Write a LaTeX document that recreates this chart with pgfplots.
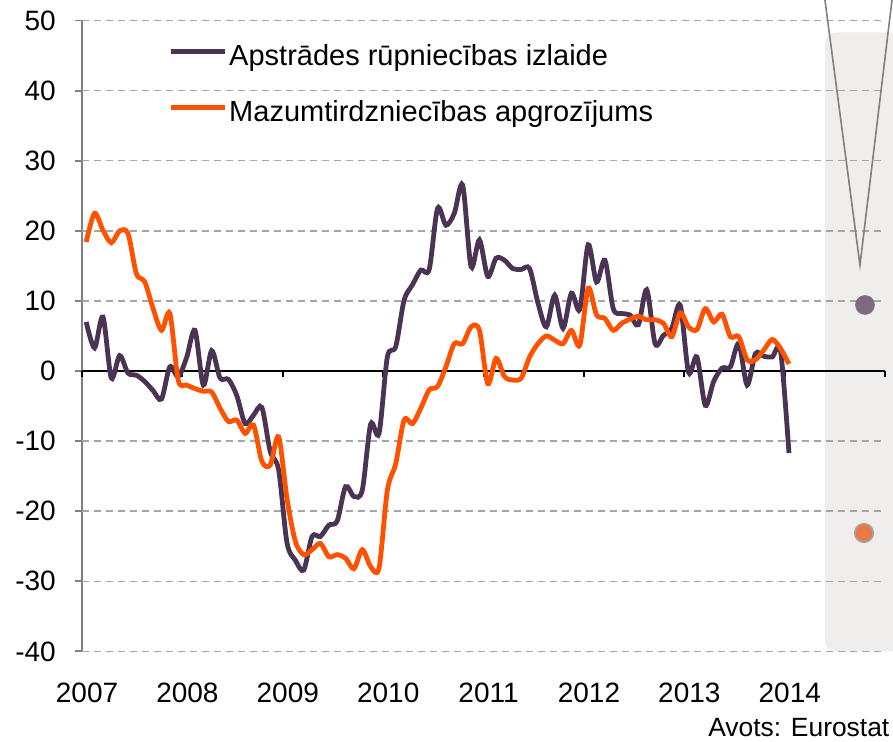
\documentclass[border=0pt]{standalone}
\usepackage{fontspec}
\setmainfont{Liberation Sans}
\usepackage{pgfplots}
\pgfplotsset{compat=1.18}
\usepackage{pgfplotstable}

\definecolor{cpurple}{HTML}{4A3353}
\definecolor{corange}{HTML}{FF5200}
\definecolor{dotpurple}{HTML}{7D6A7E}
\definecolor{dotorange}{HTML}{E87A48}
\definecolor{panelgray}{HTML}{EFEEED}
\definecolor{gridgray}{HTML}{A6A6A6}
\definecolor{axisgray}{HTML}{808080}

\pgfplotstableread{
m a b
0 7.0 18.4
1 3.3 22.5
2 7.7 20.1
3 -1.0 18.3
4 2.2 20.0
5 -0.3 19.6
6 -0.6 13.9
7 -1.5 12.7
8 -2.8 8.9
9 -4.0 5.8
10 0.6 8.2
11 -0.8 -1.3
12 1.9 -2.0
13 5.8 -2.5
14 -2.0 -2.9
15 2.9 -3.0
16 -1.0 -5.3
17 -1.2 -7.2
18 -3.5 -7.0
19 -7.5 -8.9
20 -6.3 -7.7
21 -5.2 -12.9
22 -11.5 -13.4
23 -14.1 -9.4
24 -24.5 -18.2
25 -27.0 -24.3
26 -28.4 -26.2
27 -23.6 -25.5
28 -23.6 -24.6
29 -22.0 -26.5
30 -21.4 -26.2
31 -16.5 -26.7
32 -17.9 -28.2
33 -17.0 -25.5
34 -7.6 -27.9
35 -8.9 -28.1
36 2.0 -17.0
37 3.5 -13.2
38 10.1 -7.0
39 12.3 -7.5
40 14.4 -5.3
41 14.5 -2.7
42 23.2 -2.2
43 20.8 0.6
44 22.5 3.9
45 26.5 3.9
46 14.9 6.3
47 18.7 5.8
48 13.5 -1.8
49 16.1 1.8
50 15.8 -0.8
51 14.6 -1.3
52 14.5 -1.0
53 14.6 2.0
54 9.7 3.9
55 6.3 5.0
56 10.8 4.4
57 6.1 3.9
58 11.1 5.8
59 8.8 3.7
60 18.0 11.8
61 12.7 8.0
62 15.8 7.5
63 8.9 5.8
64 8.2 6.8
65 8.0 7.4
66 6.6 7.8
67 11.6 7.3
68 3.9 7.3
69 5.1 6.8
70 6.1 4.9
71 9.4 8.3
72 -0.2 6.3
73 2.0 5.9
74 -4.9 8.9
75 -1.5 7.0
76 0.4 8.1
77 0.6 4.9
78 3.9 4.9
79 -2.0 1.6
80 2.5 1.6
81 2.1 3.0
82 2.0 4.5
83 2.8 3.2
84 -11.7 1.0
}\data

\begin{document}
\begin{tikzpicture}
\begin{axis}[
  x=50.2pt, y=3.505pt,
  xmin=2007, xmax=2015, ymin=-40, ymax=50,
  clip=false,
  axis x line*=bottom, axis y line*=left,
  x axis line style={draw=none},
  y axis line style={axisgray, line width=0.9pt},
  xtick={2007,2008,2009,2010,2011,2012,2013,2014},
  xticklabels={2007,2008,2009,2010,2011,2012,2013,2014},
  major x tick style={draw=none},
  ytick={-40,-30,-20,-10,0,10,20,30,40,50},
  tick align=outside,
  major tick length=3.5pt,
  major y tick style={axisgray, line width=0.9pt},
  /pgf/number format/assume math mode=true,
  tick label style={font=\fontsize{14}{16}\selectfont, text=black},
  yticklabel style={xshift=-6.1pt},
  xticklabel style={yshift=-8.6pt, xshift=2.5pt},
  legend style={draw=none, fill=none, at={(rel axis cs:0.1071,0.8955)}, anchor=west,
    font=\fontsize{14.5}{17}\selectfont, inner sep=0pt, row sep=12.5pt, column sep=0pt,
    nodes={inner sep=1pt, text height=10.5pt, text depth=3pt}},
  legend cell align=left,
  legend image code/.code={\draw[#1] (0pt,0.35em) -- (27pt,0.35em);},
]
\fill[panelgray, rounded corners=5pt] (axis cs:2014.40,48.3) rectangle (axis cs:2015.4,-40);
\pgfplotsinvokeforeach{-40,-30,-20,-10,10,20,30,40,50}{
  \draw[gridgray, line width=0.75pt, dash pattern=on 3.5pt off 2.5pt] (axis cs:2007,#1) -- (axis cs:2015,#1);
}
\draw[black, line width=1pt] (axis cs:2007,0) -- (axis cs:2015,0);
\pgfplotsinvokeforeach{2007,2008,2009,2010,2011,2012,2013,2014,2015}{
  \draw[black, line width=1pt] (axis cs:#1,0) -- ++(0pt,-3pt);
}
\addplot[cpurple, line width=2.4pt, smooth] table[x expr=2007+(\thisrow{m}+0.5)/12, y=a] {\data};
\addlegendentry{Apstrādes rūpniecības izlaide}
\addplot[corange, line width=2.4pt, smooth] table[x expr=2007+(\thisrow{m}+0.5)/12, y=b] {\data};
\addlegendentry{Mazumtirdzniecības apgrozījums}
\addplot[axisgray, line width=0.8pt, forget plot] coordinates {(2014.387,54.35) (2014.749,15.12) (2015.080,54.35)};
\addplot[only marks, mark=*, mark size=4.7pt, mark options={fill=dotpurple, draw=dotpurple}, forget plot] coordinates {(2014.799,9.42)};
\addplot[only marks, mark=*, mark size=4.7pt, mark options={fill=dotorange, draw=gray!70, line width=0.7pt}, forget plot] coordinates {(2014.789,-23.11)};
\node[anchor=base east, font=\fontsize{13.2}{16}\selectfont, inner sep=0pt] at (axis cs:2015.045,-52.1) {Avots: Eurostat};
\coordinate (bl) at (axis cs:2006.183,-52.92);
\coordinate (tr) at (axis cs:2015.078,52.93);
\end{axis}
\pgfresetboundingbox
\path[use as bounding box] (bl) rectangle (tr);
\end{tikzpicture}
\end{document}
